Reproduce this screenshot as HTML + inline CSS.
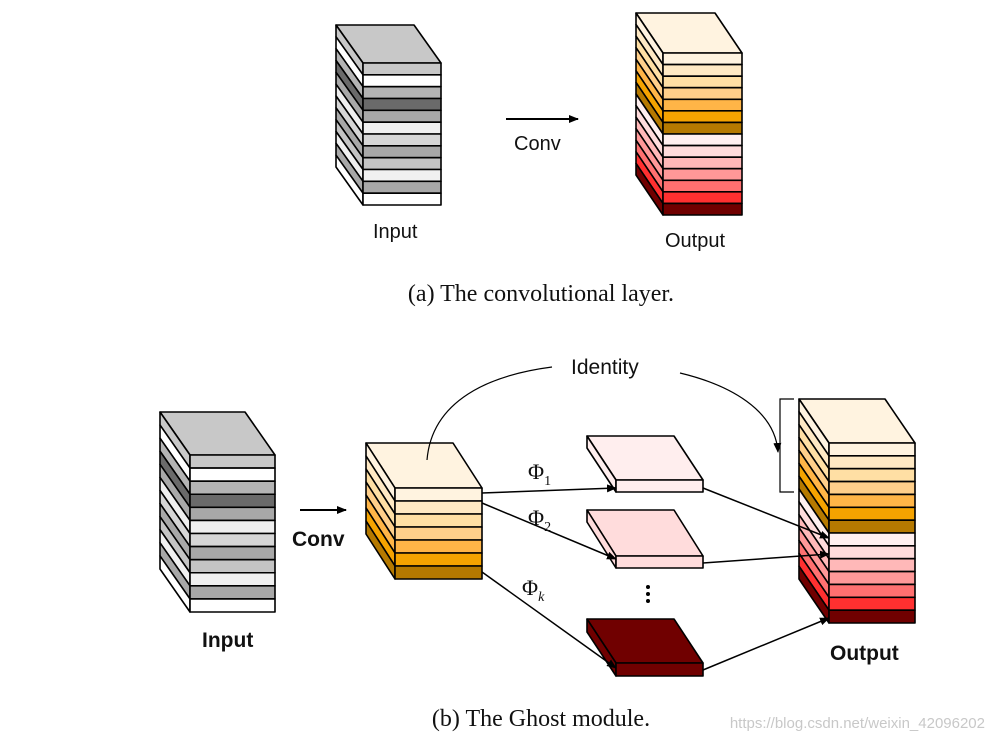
<!DOCTYPE html>
<html><head><meta charset="utf-8"><style>
body{margin:0;background:#fff;width:997px;height:743px;overflow:hidden}
svg{display:block}
.t{font-family:"Liberation Sans","DejaVu Sans",sans-serif;fill:#111}
.s{font-family:"Liberation Serif",serif;fill:#111}
</style></head><body>
<svg id="g" width="997" height="743" viewBox="0 0 997 743" xmlns="http://www.w3.org/2000/svg">
<defs><marker id="ah" markerWidth="10" markerHeight="8" refX="9" refY="4" orient="auto" markerUnits="userSpaceOnUse"><path d="M0,0L10,4L0,8z" fill="#000"/></marker></defs>
<g id="shapes"></g>
<!-- arrows -->
<line x1="506" y1="119" x2="578" y2="119" stroke="#000" stroke-width="2" marker-end="url(#ah)"/>
<line x1="300" y1="510" x2="346" y2="510" stroke="#000" stroke-width="2" marker-end="url(#ah)"/>
<g stroke="#000" stroke-width="1.5" fill="none">
<line x1="482" y1="493" x2="616" y2="488" marker-end="url(#ah)"/>
<line x1="482" y1="503" x2="616" y2="559" marker-end="url(#ah)"/>
<line x1="482" y1="572" x2="616" y2="668" marker-end="url(#ah)"/>
<line x1="703" y1="488" x2="829" y2="538" marker-end="url(#ah)"/>
<line x1="703" y1="563" x2="829" y2="554" marker-end="url(#ah)"/>
<line x1="703" y1="670" x2="829" y2="618" marker-end="url(#ah)"/>
<path d="M427,460 C432,400 490,375 552,367" stroke-width="1.2"/>
<path d="M680,373 C730,385 775,410 778,452" stroke-width="1.2" marker-end="url(#ah)"/>
<path d="M794,399 L780,399 L780,492 L794,492" stroke-width="1.2"/>
</g>
<text class="t" x="514" y="150" font-size="20">Conv</text>
<text class="t" x="373" y="238" font-size="20">Input</text>
<text class="t" x="665" y="247" font-size="20">Output</text>
<text class="s" x="541" y="301" font-size="24" text-anchor="middle">(a)  The convolutional layer.</text>
<text class="t" x="571" y="374" font-size="21">Identity</text>
<text class="t" x="292" y="546" font-size="21" font-weight="bold">Conv</text>
<text class="t" x="202" y="647" font-size="21" font-weight="bold">Input</text>
<text class="t" x="830" y="660" font-size="21" font-weight="bold">Output</text>
<text class="s" x="528" y="479" font-size="22">Φ<tspan font-size="14" dy="6">1</tspan></text>
<text class="s" x="528" y="525" font-size="22">Φ<tspan font-size="14" dy="6">2</tspan></text>
<text class="s" x="522" y="595" font-size="22">Φ<tspan font-size="14" dy="6" font-style="italic">k</tspan></text>
<circle cx="648" cy="587" r="2" fill="#000"/><circle cx="648" cy="594" r="2" fill="#000"/><circle cx="648" cy="601" r="2" fill="#000"/>
<text class="s" x="541" y="726" font-size="24" text-anchor="middle">(b)  The Ghost module.</text>
<text class="t" x="985" y="728" font-size="15" text-anchor="end" style="fill:#c8c8c8">https://blog.csdn.net/weixin_42096202</text>
</svg>
<script>
var NS="http://www.w3.org/2000/svg",G=document.getElementById("shapes");
function poly(pts,fill){var p=document.createElementNS(NS,"polygon");p.setAttribute("points",pts.map(function(a){return a.join(",")}).join(" "));p.setAttribute("fill",fill);p.setAttribute("stroke","#000");p.setAttribute("stroke-width","1.6");p.setAttribute("stroke-linejoin","round");G.appendChild(p);}
function stack(fx,fy,w,h,dx,dy,cols,top){
 var n=cols.length,sh=h/n;
 poly([[fx+dx,fy+dy],[fx+w+dx,fy+dy],[fx+w,fy],[fx,fy]],top||cols[0]);
 for(var i=0;i<n;i++){var y0=fy+i*sh,y1=y0+sh;
  poly([[fx,y0],[fx,y1],[fx+dx,y1+dy],[fx+dx,y0+dy]],cols[i]);}
 for(var i=0;i<n;i++){var y0=fy+i*sh,y1=y0+sh;
  poly([[fx,y0],[fx+w,y0],[fx+w,y1],[fx,y1]],cols[i]);}
}
var gray=["#c8c8c8","#ffffff","#b4b4b4","#6a6a6a","#a8a8a8","#efefef","#d6d6d6","#a8a8a8","#c4c4c4","#f0f0f0","#a8a8a8","#ffffff"];
var orng=["#fff3e0","#ffe9c4","#ffdfa4","#ffcf8a","#ffb547","#f5a300","#b57900"];
var red=["#fff0f0","#ffdcdc","#ffb8b8","#ff9898","#ff7070","#ff3030","#700000"];
stack(363,63,78,142,-27,-38,gray,"#c8c8c8");
stack(663,53,79,162,-27,-40,orng.concat(red),"#fff3e0");
stack(190,455,85,157,-30,-43,gray,"#c8c8c8");
stack(395,488,87,91,-29,-45,orng,"#fff3e0");
stack(829,443,86,180,-30,-44,orng.concat(red),"#fff3e0");
stack(616,480,87,12,-29,-44,["#ffeeee"]);
stack(616,556,87,12,-29,-46,["#ffdcdc"]);
stack(616,663,87,13,-29,-44,["#700000"]);
</script>
</body></html>
